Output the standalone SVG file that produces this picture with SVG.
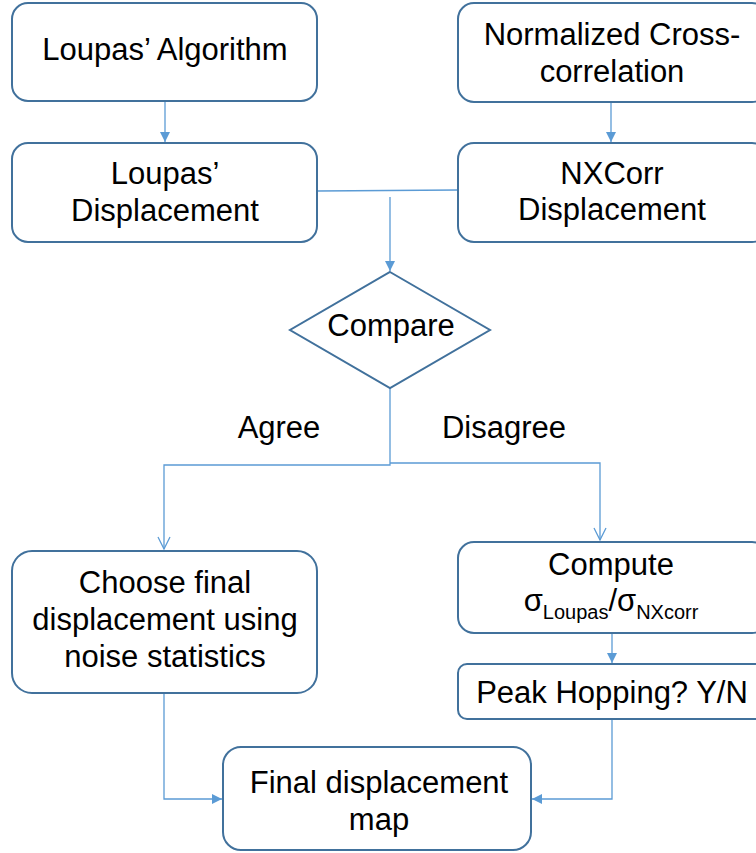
<svg xmlns="http://www.w3.org/2000/svg" width="756" height="853" viewBox="0 0 756 853">
<defs>
<style>
.box{fill:#fff;stroke:#41719C;stroke-width:2}
.t{font-family:"Liberation Sans",Arial,sans-serif;font-size:31px;fill:#000;text-anchor:middle}
.sub{font-size:20px}
.c{fill:none;stroke:#5B9BD5;stroke-width:1.3}
</style>
<marker id="fa" markerUnits="userSpaceOnUse" markerWidth="12" markerHeight="12" viewBox="0 0 12 12" refX="10" refY="6" orient="auto">
<path d="M0,1 L10,6 L0,11 Z" fill="#5B9BD5"/>
</marker>
<marker id="oa" markerUnits="userSpaceOnUse" markerWidth="14" markerHeight="14" viewBox="0 0 14 14" refX="13" refY="7" orient="auto">
<path d="M1,1 L13,7 L1,13" fill="none" stroke="#5B9BD5" stroke-width="1.3"/>
</marker>
</defs>
<rect width="756" height="853" fill="#fff"/>
<g id="connectors">
<line class="c" x1="165" y1="101" x2="165" y2="142" marker-end="url(#fa)"/>
<line class="c" x1="611" y1="102" x2="611" y2="142" marker-end="url(#fa)"/>
<line class="c" x1="317" y1="191" x2="458" y2="190"/>
<line class="c" x1="390" y1="197" x2="390" y2="271" marker-end="url(#fa)"/>
<polyline class="c" points="390,388 390,465 164,465 164,549" marker-end="url(#oa)"/>
<polyline class="c" points="390,463 600,463 600,540" marker-end="url(#oa)"/>
<line class="c" x1="612" y1="633" x2="612" y2="663" marker-end="url(#fa)"/>
<polyline class="c" points="164,693 164,799 222,799" marker-end="url(#fa)"/>
<polyline class="c" points="612,719 612,799 532,799" marker-end="url(#fa)"/>
</g>
<g id="loupas-algorithm">
<rect class="box" x="12" y="3" width="305" height="98" rx="16"/>
<text class="t" x="165" y="60">Loupas’ Algorithm</text>
</g>
<g id="nxcorr-algorithm">
<rect class="box" x="458" y="3" width="310" height="99" rx="16"/>
<text class="t" x="612" y="45">Normalized Cross-</text>
<text class="t" x="612" y="82">correlation</text>
</g>
<g id="loupas-displacement">
<rect class="box" x="12" y="143" width="305" height="99" rx="16"/>
<text class="t" x="165" y="184">Loupas’</text>
<text class="t" x="165" y="221">Displacement</text>
</g>
<g id="nxcorr-displacement">
<rect class="box" x="458" y="143" width="310" height="99" rx="16"/>
<text class="t" x="612" y="184">NXCorr</text>
<text class="t" x="612" y="220">Displacement</text>
</g>
<g id="compare">
<polygon points="390,272 490,330 390,388 290,330" fill="#fff" stroke="#41719C" stroke-width="2"/>
<text class="t" x="391" y="336">Compare</text>
</g>
<g id="labels">
<text class="t" x="279" y="438">Agree</text>
<text class="t" x="504" y="438">Disagree</text>
</g>
<g id="choose">
<rect class="box" x="12" y="551" width="305" height="142" rx="20"/>
<text class="t" x="165" y="593">Choose final</text>
<text class="t" x="165" y="630">displacement using</text>
<text class="t" x="165" y="667">noise statistics</text>
</g>
<g id="compute">
<rect class="box" x="458" y="542" width="310" height="91" rx="16"/>
<text class="t" x="611" y="575">Compute</text>
<text class="t" x="611" y="611">σ<tspan class="sub" dy="8">Loupas</tspan><tspan dy="-8">/σ</tspan><tspan class="sub" dy="8">NXcorr</tspan></text>
</g>
<g id="peak">
<rect class="box" x="458" y="664" width="310" height="55" rx="9"/>
<text class="t" x="612" y="703">Peak Hopping? Y/N</text>
</g>
<g id="final">
<rect class="box" x="223" y="747" width="308" height="103" rx="18"/>
<text class="t" x="379" y="793">Final displacement</text>
<text class="t" x="379" y="830">map</text>
</g>
</svg>
